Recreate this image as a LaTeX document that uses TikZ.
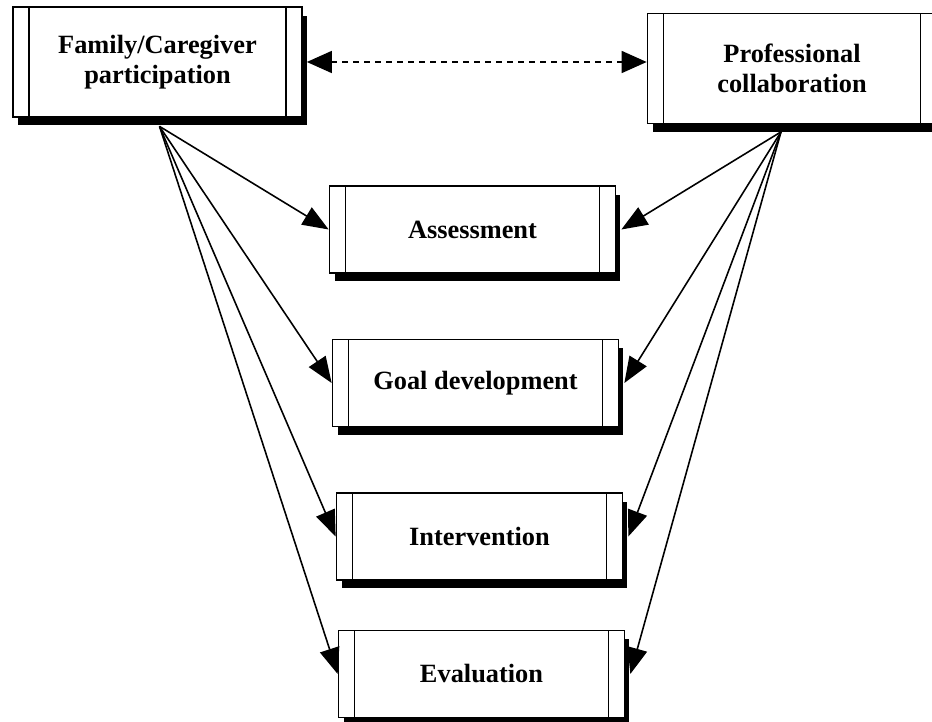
\documentclass[tikz,border=0pt]{standalone}
\usepackage{fontspec}
\setmainfont{Liberation Serif}
\usetikzlibrary{arrows.meta,shadows}

\begin{document}
\begin{tikzpicture}[
 x=0.02cm, y=-0.02cm,
 procbox/.style={draw, fill=white, line width=1pt, inner sep=0pt, align=center,
  font=\fontsize{15}{17}\selectfont\bfseries,
  drop shadow={shadow xshift=0.1cm, shadow yshift=-0.17cm, fill=black, opacity=1},
  path picture={\draw[line width=1pt]
   ([xshift=0.32cm]path picture bounding box.north west) -- ([xshift=0.32cm]path picture bounding box.south west)
   ([xshift=-0.32cm]path picture bounding box.north east) -- ([xshift=-0.32cm]path picture bounding box.south east);}},
 bigbox/.style={procbox, minimum width=5.78cm, minimum height=2.2cm},
 stepbox/.style={procbox, minimum width=5.72cm, minimum height=1.74cm},
 arr/.style={line width=0.9pt, -{Triangle[length=0.52cm,width=0.4cm]}},
 ]
 \useasboundingbox (0,0) rectangle (932,722);
 \clip (0,0) rectangle (932,722);

 \node[bigbox] (fam) at (157.5,62) {Family/Caregiver\\participation};
 \node[bigbox] (prof) at (792,68.5) {Professional\\collaboration};

 \node[stepbox] (ass)  at (472.5,229.5) {Assessment};
 \node[stepbox] (goal) at (475.5,383)   {Goal development};
 \node[stepbox] (int)  at (479.5,536.5) {Intervention};
 \node[stepbox] (eval) at (481.5,674)   {Evaluation};

 \coordinate (fsrc) at ([xshift=0.04cm,yshift=-0.17cm]fam.south);
 \coordinate (psrc) at ([xshift=-0.22cm,yshift=-0.15cm]prof.south);

 %Pfeile
 \draw[arr, dashed, dash pattern=on 0.12cm off 0.1cm, {Triangle[length=0.5cm,width=0.44cm]}-{Triangle[length=0.5cm,width=0.44cm]}]
  ([xshift=0.08cm]fam.east) -- (prof.west |- fam.east);
 \foreach \t in {ass,goal,int,eval} {
 	\draw[arr] (fsrc) -- (\t.west);
 	\draw[arr] (psrc) -- ([xshift=0.1cm]\t.east);
 }
\end{tikzpicture}
\end{document}
